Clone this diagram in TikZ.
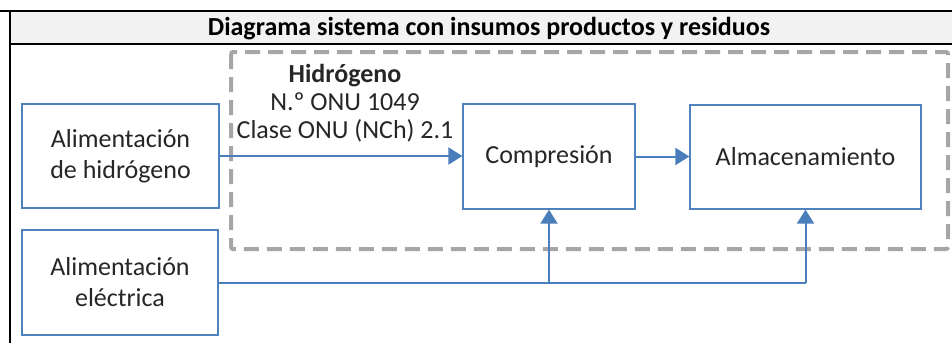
\documentclass[tikz,border=0pt]{standalone}
\usepackage{fontspec}
\setmainfont{Carlito}
\usepackage{xcolor}
\definecolor{boxblue}{HTML}{4F81BD}
\definecolor{lineblue}{HTML}{4A7EBB}
\definecolor{dashgray}{HTML}{A6A6A6}
\definecolor{headgray}{HTML}{F2F2F2}
\usepackage{tikz}
\usetikzlibrary{arrows.meta,positioning}

\begin{document}
\begin{tikzpicture}[x=1pt,y=-1pt,>={Triangle[width=17pt,length=14pt]},font=\fontsize{26}{31}\selectfont]
  \tikzstyle{block}=[draw=boxblue,line width=1.3pt,fill=white,text=black!85,align=center,inner sep=0pt]
  \tikzstyle{e}=[draw=lineblue,line width=2pt]
  \tikzstyle{frame}=[draw=black,line width=2.5pt]

  \useasboundingbox (0,0) rectangle (952,343);

  % header row
  \fill[headgray] (10,11) rectangle (952,44);
  \draw[frame] (0,11) -- (952,11);
  \draw[frame] (10,11) -- (10,343);
  \draw[black,line width=1.5pt] (10,44) -- (952,44);
  \node (title) at (489,29) {\bfseries Diagrama sistema con insumos productos y residuos};

  % system boundary
  \draw[dashgray,line width=4pt,dash pattern=on 15pt off 8pt,rounded corners=2pt] (231,52) rectangle (948,249);

  \node[block,minimum width=197pt,minimum height=104pt] (hfeed) at (120.5,156) {Alimentación\\de hidrógeno};
  \node[block,minimum width=196pt,minimum height=105pt] (efeed) at (120,282.5) {Alimentación\\eléctrica};
  \node[block,minimum width=172pt,minimum height=105pt] (comp)  at (549,156.5) {Compresión};
  \node[block,minimum width=231pt,minimum height=104pt] (store) at (805.5,157) {Almacenamiento};

  \node[align=center,text=black!85,font=\fontsize{26}{28}\selectfont] (hlabel) at (345,103) {\bfseries Hidrógeno\\N.º ONU 1049\\Clase ONU (NCh) 2.1};

  \coordinate (split) at (efeed.east -| comp.south);
  \coordinate (corner) at (efeed.east -| store.south);

  \draw[e,->] (hfeed.east) -- (hfeed.east -| comp.west);
  \draw[e,->] (comp.east) -- (comp.east -| store.west);
  \draw[e] (efeed.east) -- (corner);
  \draw[e,->] (corner) -- (store.south);
  \draw[e,->] (split) -- (comp.south);
\end{tikzpicture}
\end{document}
